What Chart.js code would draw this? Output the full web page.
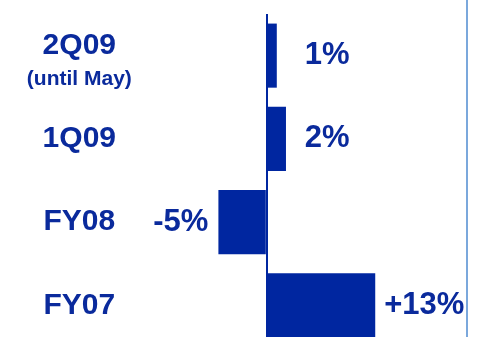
<!DOCTYPE html>
<html>
<head>
<meta charset="utf-8">
<script src="https://cdn.jsdelivr.net/npm/chart.js@4.4.0/dist/chart.umd.min.js"></script>
<style>
  html, body { margin: 0; padding: 0; background: #fff; overflow: hidden; }
  #wrap { position: relative; width: 477px; height: 337px; overflow: hidden; }
  #growth-chart { position: absolute; left: 0; top: 0; }
  #edge { position: absolute; left: 466px; top: 0; width: 2px; height: 337px; background: #7ba8dc; }
</style>
</head>
<body>
<div id="wrap">
  <canvas id="growth-chart" width="477" height="347"></canvas>
  <div id="edge"></div>
</div>
<script>
const periods = ['2Q09', '1Q09', 'FY08', 'FY07'];
const periodNotes = ['(until May)', '', '', ''];
const growth = [1.2, 2.3, -5.8, 13];
const growthLabels = ['1%', '2%', '-5%', '+13%'];

const ink = '#0a2a9c';
const barBlue = '#0026a0';
const fontFamily = '"Liberation Sans", Arial, sans-serif';

const barLabels = {
  id: 'barLabels',
  afterDatasetsDraw(chart) {
    const { ctx } = chart;
    const xScale = chart.scales.x;
    const yScale = chart.scales.y;
    const zero = xScale.getPixelForValue(0);
    const meta = chart.getDatasetMeta(0);

    ctx.save();
    ctx.fillStyle = ink;
    ctx.textBaseline = 'middle';
    ctx.font = 'bold 31px ' + fontFamily;
    meta.data.forEach((bar, i) => {
      if (growth[i] < 0) {
        ctx.textAlign = 'right';
        ctx.fillText(growthLabels[i], bar.x - 10, bar.y);
      } else {
        ctx.textAlign = 'left';
        ctx.fillText(growthLabels[i], Math.max(bar.x + 9, zero + 38), bar.y);
      }
    });

    // small note under the category name
    ctx.font = 'bold 30px ' + fontFamily;
    const widest = Math.max(...periods.map((p) => ctx.measureText(p).width));
    const cx = yScale.right - yScale.options.ticks.padding - widest / 2;
    ctx.font = 'bold 21px ' + fontFamily;
    ctx.textAlign = 'center';
    periodNotes.forEach((note, i) => {
      if (note) ctx.fillText(note, cx, yScale.getPixelForValue(i) + 24);
    });
    ctx.restore();
  },
};

new Chart(document.getElementById('growth-chart'), {
  type: 'bar',
  data: {
    labels: periods,
    datasets: [
      {
        data: growth,
        backgroundColor: barBlue,
        borderWidth: 0,
        categoryPercentage: 1,
        barPercentage: 0.77,
      },
    ],
  },
  options: {
    indexAxis: 'y',
    responsive: false,
    animation: false,
    layout: { padding: { top: 14, right: 10, bottom: 0, left: 0 } },
    plugins: {
      legend: { display: false },
      tooltip: { enabled: false },
    },
    scales: {
      x: {
        min: -14,
        max: 24,
        ticks: { display: false, stepSize: 2 },
        border: { display: false },
        grid: {
          drawTicks: false,
          color: (c) => (c.tick && c.tick.value === 0 ? barBlue : 'rgba(0,0,0,0)'),
          lineWidth: (c) => (c.tick && c.tick.value === 0 ? 2 : 0),
        },
      },
      y: {
        afterFit: (scale) => {
          scale.width = 150;
          scale.paddingTop = 0;
          scale.paddingBottom = 0;
        },
        border: { display: false },
        grid: { display: false, drawTicks: false },
        ticks: {
          color: ink,
          padding: 34,
          crossAlign: 'center',
          font: { family: fontFamily, size: 30, weight: 'bold', lineHeight: '20px' },
          callback: (value, index) => (periodNotes[index] ? [periods[index], ''] : periods[index]),
        },
      },
    },
  },
  plugins: [barLabels],
});
</script>
</body>
</html>
